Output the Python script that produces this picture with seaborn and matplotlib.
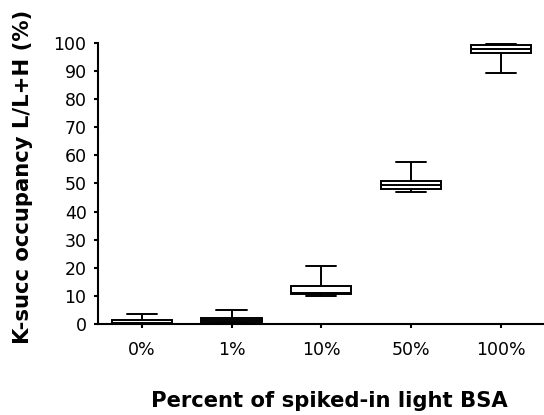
import matplotlib
matplotlib.use("Agg")
import matplotlib.pyplot as plt
import seaborn as sns
import pandas as pd

# Five-number summaries (min, Q1, median, Q3, max) of K-succ occupancy per spike-in level
categories = ["0%", "1%", "10%", "50%", "100%"]
occ_0 = [0.0, 0.0, 0.3, 1.3, 3.6]
occ_1 = [0.3, 0.7, 1.5, 2.2, 5.0]
occ_10 = [10.0, 10.6, 11.0, 13.6, 20.7]
occ_50 = [46.9, 47.9, 49.5, 50.9, 57.5]
occ_100 = [89.2, 96.5, 97.9, 99.3, 99.6]
y_ticks = list(range(0, 101, 10))

groups = [occ_0, occ_1, occ_10, occ_50, occ_100]
df = pd.DataFrame({
    "spike": [c for c, g in zip(categories, groups) for _ in g],
    "occupancy": [v for g in groups for v in g],
})

sns.set_theme(style="ticks")
plt.rcParams["font.family"] = ["DejaVu Sans"]
plt.rcParams["text.color"] = "black"
plt.rcParams["axes.labelcolor"] = "black"

W, H = 544, 415
x0, y_top, y_bot = 97.7, 43, 324

fig = plt.figure(figsize=(W / 100, H / 100), dpi=100)
ax = fig.add_axes([x0 / W, (H - y_bot) / H, 1 - x0 / W, (y_bot - y_top) / H])

sns.boxplot(
    data=df, x="spike", y="occupancy", order=categories,
    whis=(0, 100), width=0.67, color="white", linecolor="black",
    linewidth=1.4, fliersize=0, ax=ax,
)

ax.set_xlim(-0.49, 4.48)
ax.set_ylim(0, 100)
ax.set_yticks(y_ticks)
ax.set_xticks(range(len(categories)))
ax.set_xticklabels(categories)
for s in ["top", "right"]:
    ax.spines[s].set_visible(False)
for s in ["left", "bottom"]:
    ax.spines[s].set_linewidth(1.5)
    ax.spines[s].set_color("black")
ax.tick_params(axis="both", direction="out", length=3, width=1.5,
               labelsize=12.5, colors="black", pad=5)
ax.tick_params(axis="x", pad=9)

ax.set_xlabel("Percent of spiked-in light BSA", fontsize=15.2, fontweight="bold")
ax.set_ylabel("K-succ occupancy L/L+H (%)", fontsize=15.2, fontweight="bold")
ax.xaxis.set_label_coords((329 - x0) / (W - x0), -(391 - y_bot) / (y_bot - y_top))
ax.yaxis.set_label_coords(-(x0 - 33) / (W - x0), (y_bot - 176.5) / (y_bot - y_top))

fig.savefig("out.png", dpi=100)
